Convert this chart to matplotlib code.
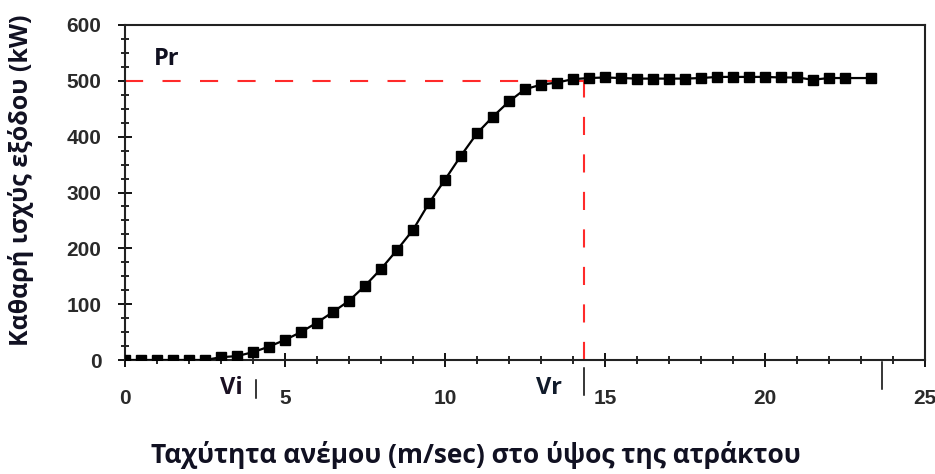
import matplotlib
matplotlib.use("Agg")
import matplotlib.pyplot as plt
from matplotlib.ticker import MultipleLocator

# Power curve
wind_speed = [0, 0.5, 1, 1.5, 2, 2.5, 3, 3.5, 4, 4.5, 5, 5.5, 6, 6.5, 7, 7.5,
              8, 8.5, 9, 9.5, 10, 10.5, 11, 11.5, 12, 12.5, 13, 13.5, 14, 14.5,
              15, 15.5, 16, 16.5, 17, 17.5, 18, 18.5, 19, 19.5, 20, 20.5, 21,
              21.5, 22, 22.5, 23.3]
power = [0, 0, 0, 0, 0, 0, 5, 7, 14, 24, 36, 50, 67, 86, 106, 133,
         163, 197, 233, 281, 323, 366, 406, 436, 463, 485, 493, 497, 503, 505,
         506, 505, 504, 504, 504, 504, 505, 507, 507, 507, 507, 506, 506,
         502, 505, 505, 505]

v_in = 4.08
v_rated = 14.35
v_out = 23.66
p_rated = 500

x_ticks = [0, 5, 10, 15, 20, 25]
y_ticks = [0, 100, 200, 300, 400, 500, 600]

W, H = 935, 474
fig = plt.figure(figsize=(W / 100, H / 100), dpi=100)
ax = fig.add_axes([125 / W, 1 - 360 / H, 800 / W, 335 / H])

ax.plot(wind_speed, power, color="black", lw=1.6, marker="s",
        markersize=6.5, zorder=3)

# rated power / rated speed guides
dash = (0, (8.7, 9.3))
ax.plot([0, v_rated], [p_rated, p_rated], color="#ff2a2a", lw=1.5, linestyle=dash)
ax.plot([v_rated, v_rated], [0, p_rated], color="#ff2a2a", lw=1.5, linestyle=dash)

ax.set_xlim(0, 25)
ax.set_ylim(0, 600)
ax.set_xticks(x_ticks)
ax.set_yticks(y_ticks)
ax.xaxis.set_minor_locator(MultipleLocator(1))
ax.yaxis.set_minor_locator(MultipleLocator(25))

tick_font = {"family": "Liberation Sans", "weight": "bold", "size": 15}
ax.set_xticklabels([str(t) for t in x_ticks], fontdict=tick_font, color="#2a2a2a")
ax.set_yticklabels([str(t) for t in y_ticks], fontdict=tick_font, color="#2a2a2a")
ax.tick_params(axis="both", which="major", direction="inout", length=10, width=1.3)
ax.tick_params(axis="both", which="minor", direction="inout", length=6, width=1.2)
ax.tick_params(axis="x", which="major", pad=16)
ax.tick_params(axis="y", which="major", pad=12)

for s in ax.spines.values():
    s.set_linewidth(1.5)
    s.set_color("#222222")

# markers under the axis for cut-in, rated and cut-out speeds
trans = ax.get_xaxis_transform()
ax.plot([v_in, v_in], [-0.06, -0.113], color="black", lw=1.1, transform=trans, clip_on=False)
ax.plot([v_rated, v_rated], [-0.024, -0.104], color="black", lw=1.1, transform=trans, clip_on=False)
ax.plot([v_out, v_out], [-0.006, -0.087], color="black", lw=1.1, transform=trans, clip_on=False)

label_font = {"family": "Open Sans", "weight": "bold", "size": 17}
fig.text(231 / W, 1 - 388 / H, "Vi", ha="center", va="center", color="#1a1022", **label_font)
fig.text(549 / W, 1 - 388 / H, "Vr", ha="center", va="center", color="#101a2a", **label_font)
fig.text(167 / W, 1 - 59 / H, "Pr", ha="center", va="center", color="#101020", **label_font)

fig.text(476 / W, 1 - 455 / H, "Ταχύτητα ανέμου (m/sec) στο ύψος της ατράκτου",
         ha="center", va="center", color="#111122", family="Open Sans",
         weight="bold", size=19)
fig.text(21 / W, 1 - 180 / H, "Καθαρή ισχύς εξόδου (kW)", rotation=90,
         ha="center", va="center", color="#111122", family="Open Sans",
         weight="bold", size=18)

fig.savefig("out.png", dpi=100)
